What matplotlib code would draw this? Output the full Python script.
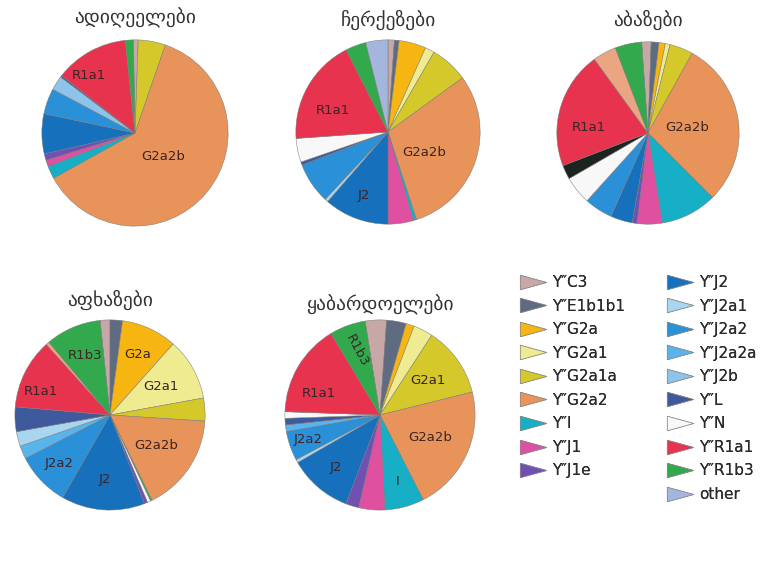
import numpy as np
import matplotlib
matplotlib.use("Agg")
import matplotlib.pyplot as plt
from matplotlib.lines import Line2D

W, H = 765, 583

# haplogroup order used in the legend
groups = ["C3", "E1b1b1", "G2a", "G2a1", "G2a1a", "G2a2", "I", "J1", "J1e",
          "J2", "J2a1", "J2a2", "J2a2a", "J2b", "L", "N", "R1a1", "R1b3", "other"]
group_colors = ["#c8a8a6", "#5f6b80", "#f7b512", "#eeeb90", "#d4c82a", "#e8935a",
                "#16afc6", "#e050a0", "#7050b0", "#1670bb", "#a8d6ee", "#2a90d8",
                "#5ab4ec", "#8ec4ea", "#3f5a9c", "#f8f8f8", "#e8334f", "#32a94c",
                "#a4b6de"]
legend_labels = ["Y\u2033C3", "Y\u2033E1b1b1", "Y\u2033G2a", "Y\u2033G2a1", "Y\u2033G2a1a",
                 "Y\u2033G2a2", "Y\u2033I", "Y\u2033J1", "Y\u2033J1e",
                 "Y\u2033J2", "Y\u2033J2a1", "Y\u2033J2a2", "Y\u2033J2a2a", "Y\u2033J2b",
                 "Y\u2033L", "Y\u2033N", "Y\u2033R1a1", "Y\u2033R1b3", "other"]
extra_colors = {"dark": "#1c2420", "peach": "#eaa583", "green_line": "#32a94c"}

# slices clockwise from the top (in degrees)
adyghe_keys = ["C3", "G2a1a", "G2a2", "I", "J1", "J1e", "J2", "J2a2", "J2b", "L", "R1a1", "R1b3"]
adyghe_vals = [3, 17, 222, 8, 4, 4, 25, 16, 9, 1, 46, 5]

circassian_keys = ["C3", "E1b1b1", "G2a", "G2a1", "G2a1a", "G2a2", "I", "J1", "J2",
                   "J2a1", "J2a2", "L", "N", "R1a1", "R1b3", "other"]
circassian_vals = [4, 3, 17, 6, 24, 108, 2, 16, 41, 2, 26, 2, 15, 67, 13, 14]

abazin_keys = ["C3", "E1b1b1", "G2a", "G2a1", "G2a1a", "G2a2", "I", "J1", "J1e", "J2",
               "J2a2", "N", "dark", "R1a1", "peach", "R1b3"]
abazin_vals = [6, 5, 4, 3, 15, 106, 36, 16, 3, 14, 18, 18, 9, 75, 15, 17]

abkhaz_keys = ["C3", "E1b1b1", "G2a", "G2a1", "G2a1a", "G2a2", "green_line", "N", "J1e", "J2",
               "J2a2", "J2a2a", "J2a1", "L", "R1a1", "peach", "R1b3"]
abkhaz_vals = [6, 7.6, 34, 38, 14, 60, 1, 2, 2, 51, 33, 8, 9, 15, 43, 2, 34]

kabardian_keys = ["C3", "E1b1b1", "G2a", "G2a1", "G2a1a", "G2a2", "I", "J1", "J1e", "J2",
                  "J2a1", "J2a2", "J2a2a", "L", "N", "R1a1", "R1b3"]
kabardian_vals = [13, 12, 5, 12, 43, 77, 24, 16, 8, 39, 2, 18, 4, 4, 4, 57, 22]

titles = ["ადიღეელები", "ჩერქეზები", "აბაზები", "აფხაზები", "ყაბარდოელები"]

# labels drawn inside slices: (key, text, radius fraction, angle shift, rotation)
adyghe_labels = [("G2a2", "G2a2b", 0.40, 0, 0), ("R1a1", "R1a1", 0.79, 10, 0)]
circassian_labels = [("G2a2", "G2a2b", 0.45, -12, 0), ("R1a1", "R1a1", 0.64, 8, 0),
                     ("J2", "J2", 0.74, 0, 0)]
abazin_labels = [("G2a2", "G2a2b", 0.43, 0, 0), ("R1a1", "R1a1", 0.65, 11, 0)]
abkhaz_labels = [("G2a", "G2a", 0.70, 0, 0), ("G2a1", "G2a1", 0.62, 0, 0),
                 ("G2a2", "G2a2b", 0.58, 0, 0), ("J2", "J2", 0.68, 0, 0),
                 ("J2a2", "J2a2", 0.74, 0, 0), ("R1a1", "R1a1", 0.77, 8, 0),
                 ("R1b3", "R1b3", 0.68, 0, 0)]
kabardian_labels = [("G2a1a", "G2a1", 0.62, 0, 0), ("G2a2", "G2a2b", 0.58, 0, 0),
                    ("I", "I", 0.72, 0, 0), ("J2", "J2", 0.72, 0, 0),
                    ("J2a2", "J2a2", 0.80, 0, 0), ("R1a1", "R1a1", 0.68, 11, 0),
                    ("R1b3", "R1b3", 0.72, 0, -62)]

pies = [
    (adyghe_keys, adyghe_vals, adyghe_labels, (135, 133, 95), 91),
    (circassian_keys, circassian_vals, circassian_labels, (388, 132, 94), 90),
    (abazin_keys, abazin_vals, abazin_labels, (648, 133, 93), 94),
    (abkhaz_keys, abkhaz_vals, abkhaz_labels, (110, 415, 97), 96),
    (kabardian_keys, kabardian_vals, kabardian_labels, (380, 415, 97), 99),
]
title_y = [18, 20, 20, 300, 305]

color_of = dict(zip(groups, group_colors))
color_of.update(extra_colors)

fig = plt.figure(figsize=(W / 100, H / 100), dpi=100)

for (keys, vals, labels, (cx, cy, r), start), title, ty in zip(pies, titles, title_y):
    ax = fig.add_axes([(cx - r) / W, 1 - (cy + r) / H, 2 * r / W, 2 * r / H])
    wedges, _ = ax.pie(vals, colors=[color_of[k] for k in keys], startangle=start,
                       counterclock=False, radius=1,
                       wedgeprops=dict(edgecolor="#7a7a7a", linewidth=0.35))
    ax.set_xlim(-1.02, 1.02)
    ax.set_ylim(-1.02, 1.02)
    ax.set_aspect("equal")
    ax.axis("off")
    for key, txt, rf, shift, rot in labels:
        w = wedges[keys.index(key)]
        ang = np.deg2rad((w.theta1 + w.theta2) / 2 + shift)
        ax.text(rf * np.cos(ang), rf * np.sin(ang), txt, ha="center", va="center",
                fontsize=9.5, color="#3a2426", rotation=rot)
    fig.text(cx / W, 1 - ty / H, title, ha="center", va="center", fontsize=14,
             color="#333333", family="DejaVu Sans")

# legend, two columns
tri = [(-1.0, -0.55), (1.0, 0.0), (-1.0, 0.55), (-1.0, -0.55)]
handles = [Line2D([], [], linestyle="none", marker=tri, markersize=19,
                  markerfacecolor=c, markeredgecolor="#8a8a8a", markeredgewidth=0.5)
           for c in group_colors]
cols = [(slice(0, 9), 518, 275), (slice(9, 19), 665, 275)]
for sl, lx, ly in cols:
    leg = fig.legend(handles[sl], legend_labels[sl], loc="upper left",
                     bbox_to_anchor=(lx / W, 1 - ly / H), frameon=False, fontsize=11,
                     handlelength=1.9, handletextpad=0.35, labelspacing=0.56,
                     borderpad=0, borderaxespad=0)
    for t in leg.get_texts():
        t.set_color("#2a2a2a")
    fig.add_artist(leg)

fig.savefig("out.png", dpi=100)
